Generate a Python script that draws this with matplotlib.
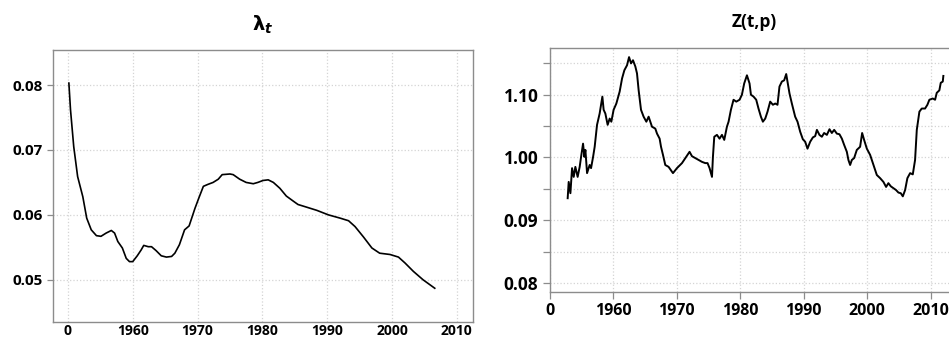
import matplotlib
matplotlib.use('Agg')
import matplotlib.pyplot as plt
from matplotlib.ticker import FixedLocator

# --- data: lambda_t (left panel) ---
lam_year = [1950.15, 1950.4, 1950.9, 1951.5, 1952.3, 1952.9, 1953.6, 1954.4, 1955.1, 1955.9,
            1956.7, 1957.2, 1957.7, 1958.4, 1959.0, 1959.5, 1960.0, 1960.7, 1961.3, 1961.7,
            1962.4, 1962.9, 1963.6, 1964.4, 1965.2, 1966.0, 1966.5, 1967.2, 1968.0, 1968.7,
            1969.6, 1970.2, 1970.9, 1971.6, 1972.4, 1973.2, 1973.8, 1975.0, 1975.5, 1976.5,
            1977.5, 1978.6, 1979.3, 1980.1, 1980.9, 1981.7, 1982.7, 1983.7, 1984.8, 1985.5,
            1986.8, 1988.4, 1990.2, 1992.0, 1993.3, 1994.3, 1995.6, 1996.9, 1998.1, 1999.7,
            2001.0, 2002.0, 2003.3, 2004.8, 2006.6]
lam_val = [0.0803, 0.0762, 0.0705, 0.0659, 0.0628, 0.0595, 0.0577, 0.0568, 0.0567, 0.0572,
           0.0576, 0.0572, 0.0559, 0.0549, 0.0533, 0.0528, 0.0528, 0.0537, 0.0546, 0.0553,
           0.0551, 0.0551, 0.0545, 0.0537, 0.0535, 0.0536, 0.0541, 0.0554, 0.0577, 0.0583,
           0.0610, 0.0626, 0.0644, 0.0647, 0.0650, 0.0655, 0.0662, 0.0663, 0.0662, 0.0655,
           0.0650, 0.0648, 0.0650, 0.0653, 0.0654, 0.0650, 0.0641, 0.0629, 0.0621, 0.0616,
           0.0612, 0.0607, 0.0600, 0.0595, 0.0591, 0.0582, 0.0566, 0.0549, 0.0541, 0.0539,
           0.0535, 0.0526, 0.0513, 0.0500, 0.0487]

# --- data: Z(t,p) (right panel) ---
z_year = [1952.86, 1953.02, 1953.29, 1953.55, 1953.81, 1954.07, 1954.43, 1954.75, 1954.97, 1955.28,
          1955.49, 1955.65, 1955.91, 1956.32, 1956.54, 1956.86, 1957.11, 1957.48, 1957.89, 1958.32,
          1958.52, 1958.79, 1959.15, 1959.47, 1959.73, 1960.09, 1960.52, 1961.04, 1961.42, 1961.78,
          1962.20, 1962.52, 1962.83, 1963.14, 1963.51, 1963.77, 1964.03, 1964.40, 1964.81, 1965.24,
          1965.60, 1965.86, 1966.13, 1966.65, 1966.92, 1967.33, 1967.55, 1967.86, 1968.22, 1968.74,
          1969.43, 1970.06, 1970.85, 1971.37, 1972.04, 1972.42, 1972.94, 1973.46, 1973.99, 1974.51,
          1974.87, 1975.19, 1975.57, 1975.72, 1975.93, 1976.35, 1976.76, 1977.14, 1977.50, 1977.92,
          1978.18, 1978.55, 1978.96, 1979.39, 1979.91, 1980.28, 1980.64, 1981.07, 1981.48, 1981.70,
          1982.11, 1982.53, 1982.89, 1983.27, 1983.58, 1983.95, 1984.31, 1984.73, 1985.16, 1985.52,
          1985.88, 1986.19, 1986.57, 1986.93, 1987.25, 1987.45, 1987.77, 1988.14, 1988.66, 1989.03,
          1989.45, 1989.87, 1990.24, 1990.60, 1991.02, 1991.45, 1991.81, 1992.08, 1992.48, 1992.86,
          1993.22, 1993.65, 1994.06, 1994.43, 1994.80, 1995.22, 1995.63, 1996.01, 1996.37, 1996.79,
          1997.04, 1997.31, 1997.58, 1997.94, 1998.36, 1998.88, 1999.20, 1999.51, 1999.94, 2000.46,
          2000.88, 2001.24, 2001.51, 2002.03, 2002.55, 2002.97, 2003.33, 2003.71, 2004.12, 2004.54,
          2004.91, 2005.28, 2005.60, 2005.96, 2006.32, 2006.75, 2007.17, 2007.53, 2007.80, 2008.21,
          2008.58, 2009.10, 2009.47, 2009.78, 2010.31, 2010.68, 2010.94, 2011.35, 2011.57, 2011.89,
          2011.98]
z_val = [0.935, 0.961, 0.943, 0.983, 0.969, 0.985, 0.969, 0.985, 1.001, 1.022,
         1.001, 1.012, 0.975, 0.988, 0.983, 1.001, 1.017, 1.052, 1.070, 1.097,
         1.076, 1.070, 1.052, 1.062, 1.057, 1.076, 1.086, 1.105, 1.126, 1.139,
         1.147, 1.160, 1.150, 1.155, 1.145, 1.134, 1.107, 1.076, 1.065, 1.057,
         1.065, 1.057, 1.049, 1.046, 1.038, 1.030, 1.017, 1.004, 0.988, 0.985,
         0.975, 0.983, 0.991, 0.999, 1.009, 1.002, 0.999, 0.996, 0.993, 0.991,
         0.991, 0.983, 0.969, 1.001, 1.033, 1.036, 1.030, 1.036, 1.028, 1.049,
         1.057, 1.076, 1.092, 1.089, 1.092, 1.100, 1.118, 1.131, 1.118, 1.100,
         1.097, 1.092, 1.078, 1.065, 1.057, 1.062, 1.073, 1.089, 1.084, 1.086,
         1.084, 1.113, 1.121, 1.123, 1.133, 1.121, 1.102, 1.086, 1.065, 1.057,
         1.041, 1.029, 1.025, 1.014, 1.025, 1.032, 1.034, 1.044, 1.036, 1.033,
         1.039, 1.036, 1.045, 1.039, 1.044, 1.038, 1.037, 1.030, 1.020, 1.009,
         0.996, 0.988, 0.996, 0.999, 1.012, 1.017, 1.039, 1.028, 1.014, 1.004,
         0.991, 0.980, 0.972, 0.967, 0.961, 0.953, 0.959, 0.954, 0.951, 0.948,
         0.944, 0.943, 0.938, 0.948, 0.967, 0.975, 0.973, 0.996, 1.044, 1.073,
         1.078, 1.078, 1.084, 1.092, 1.094, 1.092, 1.103, 1.107, 1.119, 1.121,
         1.130]

# tick labels as printed in the original
x_ticks = [1950, 1960, 1970, 1980, 1990, 2000, 2010]
x_labels = ['0', '1960', '1970', '1980', '1990', '2000', '2010']
lam_yticks = [0.05, 0.06, 0.07, 0.08]
lam_ylabels = ['0.05', '0.06', '0.07', '0.08']
z_yticks = [0.80, 0.90, 1.00, 1.10]
z_ylabels = ['0.08', '0.09', '1.00', '1.10']
z_yminor = [0.85, 0.95, 1.05, 1.15]

FONT = 'Open Sans'
SPINE = '#8c8c8c'
GRID = dict(color='#d4d4d4', linestyle=':', linewidth=0.9)

fig = plt.figure(figsize=(9.49, 3.39), dpi=100)

# --- left: lambda_t ---
ax1 = fig.add_axes([53/949, 17/339, 420/949, 272/339])
ax1.plot(lam_year, lam_val, color='black', linewidth=1.2)
ax1.set_xlim(1947.7, 2012.5)
ax1.set_ylim(0.0435, 0.0854)
ax1.set_xticks(x_ticks)
ax1.set_xticklabels(x_labels)
ax1.set_yticks(lam_yticks)
ax1.set_yticklabels(lam_ylabels)
ax1.grid(True, **GRID)
ax1.tick_params(axis='x', length=0, pad=1.5, labelsize=10)
ax1.tick_params(axis='y', length=4.5, width=0.9, color=SPINE, pad=3, labelsize=11)
ax1.set_title(r'$\boldsymbol{\lambda}_{\boldsymbol{t}}$', fontsize=14, pad=14)

# --- right: Z(t,p) ---
ax2 = fig.add_axes([549.5/949, 46.7/339, 410.5/949, 244.6/339])
ax2.plot(z_year, z_val, color='black', linewidth=1.4)
ax2.set_xlim(1950, 2014.6)
ax2.set_ylim(0.785, 1.175)
ax2.set_xticks(x_ticks)
ax2.set_xticklabels(x_labels)
ax2.set_yticks(z_yticks)
ax2.set_yticklabels(z_ylabels)
ax2.yaxis.set_minor_locator(FixedLocator(z_yminor))
ax2.grid(True, which='major', **GRID)
ax2.grid(True, which='minor', axis='y', **GRID)
ax2.tick_params(axis='x', length=5, width=0.9, color=SPINE, pad=3, labelsize=11.5)
ax2.tick_params(axis='y', which='both', length=5, width=0.9, color=SPINE, pad=3, labelsize=12.5)
ax2.set_title('Z(t,p)', fontsize=12.5, fontweight='bold', fontfamily=FONT, pad=15)

for ax in (ax1, ax2):
    for lbl in ax.get_xticklabels() + ax.get_yticklabels():
        lbl.set_fontfamily(FONT)
        lbl.set_fontweight('bold')
    for sp in ax.spines.values():
        sp.set_color(SPINE)
        sp.set_linewidth(1.0)

fig.savefig('out.png', dpi=100)
